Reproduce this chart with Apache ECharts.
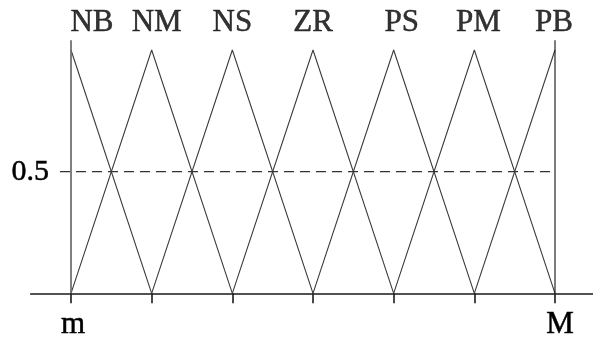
<!DOCTYPE html>
<html>
<head>
<meta charset="utf-8">
<script src="https://cdn.jsdelivr.net/npm/echarts@6/dist/echarts.min.js"></script>
<style>
html,body{margin:0;padding:0;background:#fff;}
#chart{width:593px;height:339px;}
</style>
</head>
<body>
<div id="chart"></div>
<script>
// ---- data ----
var terms = ['NB', 'NM', 'NS', 'ZR', 'PS', 'PM', 'PB'];
var peaks = [0, 1, 2, 3, 4, 5, 6];
var NB = [[0, 1], [1, 0]];
var NM = [[0, 0], [1, 1], [2, 0]];
var NS = [[1, 0], [2, 1], [3, 0]];
var ZR = [[2, 0], [3, 1], [4, 0]];
var PS = [[3, 0], [4, 1], [5, 0]];
var PM = [[4, 0], [5, 1], [6, 0]];
var PB = [[5, 0], [6, 1]];
var memberships = [NB, NM, NS, ZR, PS, PM, PB];
var leftBound = [[0, 0], [0, 1.04]];
var rightBound = [[6, 0], [6, 1.04]];
var halfLine = [[-0.136, 0.5], [6, 0.5]];
var xTickValues = [0, 1, 2, 3, 4, 5, 6];
var xLabelValues = [0, 6];
var xLabelTexts = ['m', 'M'];
var yLabelValues = [0.5];
var yLabelTexts = ['0.5'];

// ---- styling (not data) ----
var FONT = '"Liberation Serif", "DejaVu Serif", serif';
var labelShift = [21, 5, 0, 0, 8, 4, -1];
var xLabelStyle = ['lm', 'rm'];

var chart = echarts.init(document.getElementById('chart'), null, {renderer: 'canvas'});

var textDark = {textBorderColor: '#000', textBorderWidth: 0.5};

var series = [];
memberships.forEach(function (m, i) {
  series.push({
    type: 'line', name: terms[i], data: m, showSymbol: false, silent: true,
    lineStyle: {color: '#3a3a3a', width: 1.1}, z: 2
  });
});
series.push({type: 'line', data: leftBound, showSymbol: false, silent: true,
  lineStyle: {color: '#6a6a6a', width: 1.7}, z: 3});
series.push({type: 'line', data: rightBound, showSymbol: false, silent: true,
  lineStyle: {color: '#111', width: 1.1}, z: 3});
series.push({type: 'line', data: halfLine, showSymbol: false, silent: true,
  lineStyle: {color: '#333', width: 1.1, type: [10, 6]}, z: 2});
series.push({
  type: 'scatter', symbolSize: 0, silent: true,
  data: peaks.map(function (p, i) {
    return {value: [p, 1], name: terms[i], label: {offset: [labelShift[i], 0]}};
  }),
  label: Object.assign({
    show: true, position: 'top', distance: 12,
    formatter: function (p) { return p.name; },
    fontFamily: FONT, fontSize: 31, color: '#000'
  }, textDark)
});

chart.setOption({
  animation: false,
  backgroundColor: '#fff',
  grid: {left: 30.67, right: -2.33, top: 40.3, bottom: 45.7, outerBoundsMode: 'none'},
  xAxis: {
    type: 'value', min: -0.5, max: 6.5,
    axisLine: {show: true, lineStyle: {color: '#1a1a1a', width: 1.6}},
    axisTick: {show: true, customValues: xTickValues, length: 10, lineStyle: {color: '#1a1a1a', width: 1.6}},
    axisLabel: Object.assign({
      show: true, customValues: xLabelValues, margin: 16,
      formatter: function (v) {
        var k = xLabelValues.indexOf(v);
        return k >= 0 ? '{' + xLabelStyle[k] + '|' + xLabelTexts[k] + '}' : '';
      },
      rich: {
        lm: {fontFamily: FONT, fontSize: 31, color: '#000', padding: [0, 0, 0, 4], textBorderColor: '#000', textBorderWidth: 0.5},
        rm: {fontFamily: FONT, fontSize: 31, color: '#000', padding: [0, 0, 0, 10], textBorderColor: '#000', textBorderWidth: 0.5}
      },
      fontFamily: FONT, fontSize: 31, color: '#000'
    }, textDark),
    splitLine: {show: false}
  },
  yAxis: {
    type: 'value', min: 0, max: 1.04, offset: -26.3,
    axisLine: {show: false}, axisTick: {show: false}, splitLine: {show: false},
    axisLabel: Object.assign({
      show: true, customValues: yLabelValues, margin: 8,
      formatter: function (v) { var k = yLabelValues.indexOf(v); return k >= 0 ? yLabelTexts[k] : ''; },
      fontFamily: FONT, fontSize: 30, color: '#000'
    }, textDark)
  },
  series: series
});
</script>
</body>
</html>
